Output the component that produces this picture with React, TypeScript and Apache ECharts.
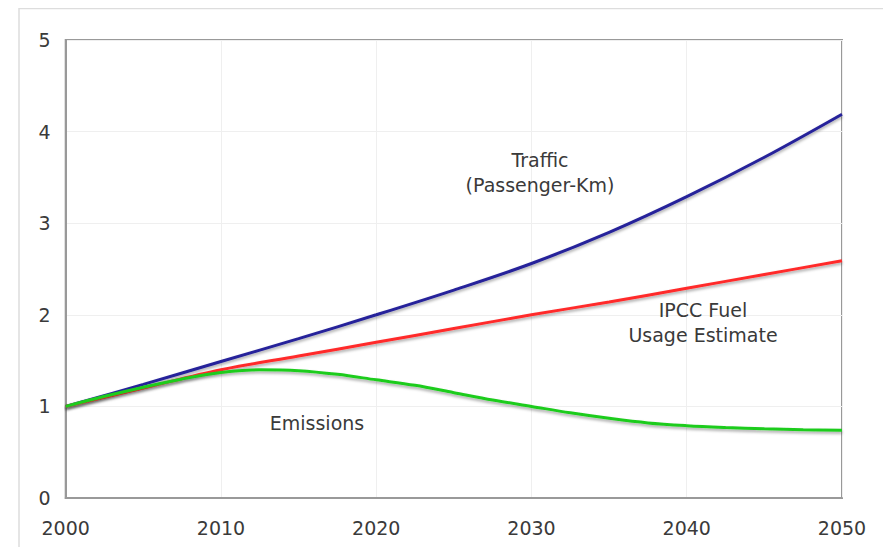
import React, { useEffect, useRef } from "react";
import * as echarts from "echarts";

const years = [2000, 2005, 2010, 2015, 2020, 2025, 2030, 2035, 2040, 2045, 2050];
const traffic = [1.0, 1.24, 1.49, 1.74, 2.0, 2.27, 2.56, 2.9, 3.29, 3.72, 4.19];
const fuel = [1.0, 1.2, 1.4, 1.55, 1.7, 1.85, 2.0, 2.14, 2.29, 2.44, 2.59];
const emissionYears = [
  2000, 2002.5, 2005, 2007.5, 2010, 2012.5, 2015, 2017.5, 2020, 2022.5, 2025,
  2027.5, 2030, 2032.5, 2035, 2037.5, 2040, 2042.5, 2045, 2047.5, 2050,
];
const emissions = [
  1.0, 1.11, 1.21, 1.3, 1.37, 1.4, 1.39, 1.35, 1.29, 1.23, 1.15,
  1.07, 1.0, 0.93, 0.87, 0.82, 0.79, 0.77, 0.755, 0.745, 0.74,
];
const yTicks = [0, 1, 2, 3, 4, 5];
const xTicks = [2000, 2010, 2020, 2030, 2040, 2050];

const FONT = "DejaVu Sans";
const TEXT = "#3a3a3a";

function pairs(xs: number[], vals: number[]) {
  return xs.map((x, i) => [x, vals[i]]);
}

function lineSeries(name: string, xs: number[], vals: number[], color: string) {
  return {
    name,
    type: "line",
    data: pairs(xs, vals),
    smooth: 0.35,
    showSymbol: false,
    symbol: "none",
    clip: false,
    lineStyle: {
      color,
      width: 3,
      shadowColor: "rgba(0,0,0,0.35)",
      shadowBlur: 3,
      shadowOffsetY: 2,
    },
    z: 3,
  };
}

function label(text: string, x: number, y: number) {
  return {
    type: "text",
    x: x - 8,
    y: y - 8,
    z: 100,
    zlevel: 0,
    silent: true,
    style: {
      text,
      fill: TEXT,
      font: `19px "${FONT}"`,
      textAlign: "center",
      textVerticalAlign: "middle",
    },
  };
}

export default function App() {
  const ref = useRef<HTMLDivElement>(null);
  useEffect(() => {
    if (!ref.current) return;
    const chart = echarts.init(ref.current, null, { renderer: "svg" });
    chart.setOption({
      animation: false,
      backgroundColor: "#ffffff",
      grid: {
        left: 57.7,
        top: 32,
        right: 49,
        bottom: 57,
        show: true,
        borderColor: "#999999",
        borderWidth: 2,
        backgroundColor: "transparent",
      },
      xAxis: {
        type: "value",
        min: 2000,
        max: 2050,
        interval: 10,
        axisLine: { show: true, lineStyle: { color: "#999999", width: 2 } },
        axisTick: { show: false },
        splitLine: { show: true, lineStyle: { color: "#efefef", width: 1 } },
        axisLabel: {
          color: TEXT,
          fontFamily: FONT,
          fontSize: 19,
          margin: 20,
          formatter: (v: number) => (xTicks.includes(v) ? String(v) : ""),
        },
      },
      yAxis: {
        type: "value",
        min: 0,
        max: 5,
        interval: 1,
        axisLine: { show: true, lineStyle: { color: "#999999", width: 2 } },
        axisTick: { show: false },
        splitLine: { show: true, lineStyle: { color: "#efefef", width: 1 } },
        axisLabel: {
          color: TEXT,
          fontFamily: FONT,
          fontSize: 19,
          margin: 15,
          formatter: (v: number) => (yTicks.includes(v) ? String(v) : ""),
        },
      },
      series: [
        lineSeries("Traffic (Passenger-Km)", years, traffic, "#25229a"),
        lineSeries("IPCC Fuel Usage Estimate", years, fuel, "#ff2b2b"),
        lineSeries("Emissions", emissionYears, emissions, "#1fcc1f"),
      ],
      graphic: [
        {
          type: "rect",
          silent: true,
          shape: { x: 11, y: 0.5, width: 867, height: 600 },
          style: { fill: "none", stroke: "#dddddd", lineWidth: 1.5 },
          z: 0,
        },
        label("Traffic", 540, 160),
        label("(Passenger-Km)", 540, 185),
        label("IPCC Fuel", 703, 310),
        label("Usage Estimate", 703, 335),
        label("Emissions", 317, 423),
      ],
    });
    return () => chart.dispose();
  }, []);
  return <div ref={ref} style={{ width: 883, height: 547, marginBottom: -8 }} />;
}
